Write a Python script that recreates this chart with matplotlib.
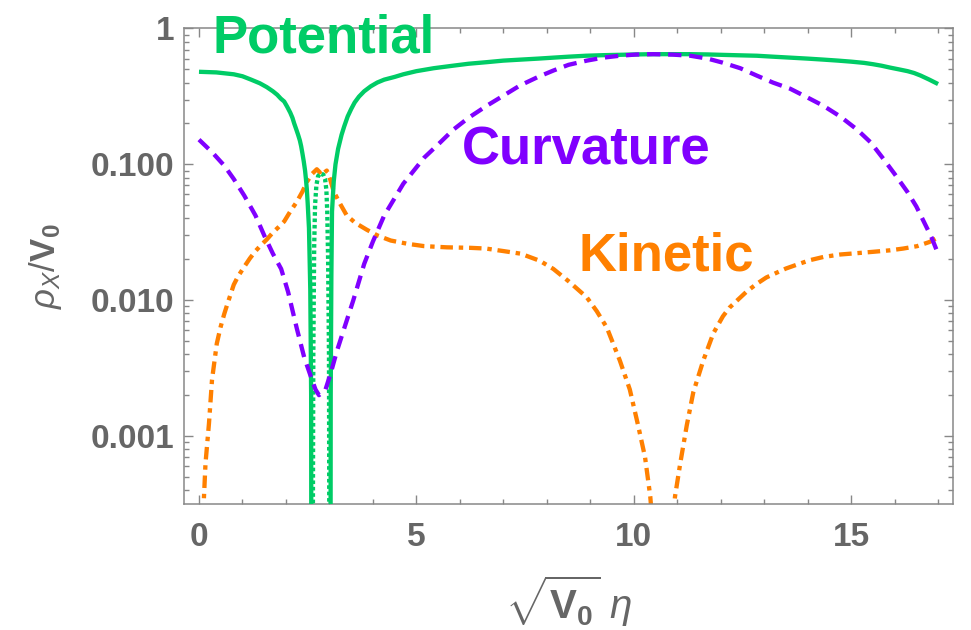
import numpy as np
import matplotlib
matplotlib.use("Agg")
import matplotlib.pyplot as plt
from matplotlib.ticker import LogLocator, FixedLocator, FixedFormatter, MultipleLocator, NullFormatter

plt.rcParams["font.family"] = ["Liberation Sans", "DejaVu Sans"]
plt.rcParams["mathtext.fontset"] = "custom"
plt.rcParams["mathtext.rm"] = "Liberation Sans"
plt.rcParams["mathtext.it"] = "Liberation Sans:italic"
plt.rcParams["mathtext.bf"] = "Liberation Sans:bold"
plt.rcParams["lines.scale_dashes"] = False

# ---- data: energy-density fractions vs. conformal time ----
eta_pot = [0, 0.4, 0.8, 1.0, 1.2, 1.4, 1.56, 1.7, 1.8, 1.88, 1.96, 2.03, 2.1, 2.15, 2.19,
           2.24, 2.28, 2.32, 2.35, 2.38, 2.41, 2.44, 2.46, 2.48, 2.50, 2.53, 2.56, 2.58,
           2.59, 3.02, 3.03, 3.045, 3.06, 3.1, 3.14, 3.2, 3.28, 3.34, 3.42, 3.5, 3.58,
           3.68, 3.8, 3.95, 4.1, 4.26, 4.5, 4.7, 5.0, 5.4, 5.8, 6.2, 6.62, 7.0, 7.4, 7.8,
           8.15, 8.5, 8.9, 9.3, 9.68, 10.05, 10.45, 10.9, 11.3, 11.7, 12.0, 12.4, 12.83,
           13.2, 13.6, 14.0, 14.36, 14.7, 15.0, 15.3, 15.5, 15.7, 15.9, 16.1, 16.3,
           16.45, 16.6, 16.8, 17.0]
rho_pot = [0.48, 0.475, 0.46, 0.445, 0.42, 0.395, 0.37, 0.345, 0.325, 0.305, 0.29,
           0.265, 0.24, 0.22, 0.20, 0.18, 0.165, 0.15, 0.136, 0.12, 0.105, 0.09, 0.078,
           0.066, 0.052, 0.034, 0.012, 0.002, 1e-6, 1e-6, 0.002, 0.015, 0.045, 0.075,
           0.10, 0.13, 0.165, 0.19, 0.225, 0.255, 0.285, 0.315, 0.345, 0.375, 0.40,
           0.42, 0.44, 0.46, 0.485, 0.51, 0.53, 0.55, 0.565, 0.58, 0.59, 0.60, 0.61,
           0.62, 0.63, 0.636, 0.64, 0.644, 0.647, 0.647, 0.647, 0.644, 0.64, 0.635,
           0.63, 0.62, 0.61, 0.60, 0.59, 0.58, 0.57, 0.558, 0.546, 0.532, 0.515, 0.5,
           0.485, 0.47, 0.45, 0.42, 0.39]

# |V| where the potential turns negative
eta_pot_neg = [2.60, 2.63, 2.65, 2.67, 2.70, 2.74, 2.80, 2.86, 2.90, 2.93, 2.95, 2.97,
               2.99, 3.01]
rho_pot_neg = [1e-6, 0.004, 0.025, 0.05, 0.07, 0.082, 0.086, 0.084, 0.078, 0.065,
               0.045, 0.02, 0.004, 1e-6]

eta_curv = [0, 0.3, 0.58, 0.8, 1.04, 1.3, 1.5, 1.7, 1.89, 2.05, 2.25, 2.42, 2.58, 2.68,
            2.76, 2.84, 2.91, 3.03, 3.17, 3.34, 3.55, 3.8, 4.0, 4.26, 4.7, 5.18, 5.5,
            5.85, 6.2, 6.62, 7.0, 7.38, 7.8, 8.15, 8.5, 8.92, 9.3, 9.68, 10.05, 10.45,
            10.9, 11.3, 11.7, 12.05, 12.45, 12.83, 13.2, 13.6, 14.0, 14.36, 14.75,
            15.14, 15.45, 15.74, 16.0, 16.29, 16.5, 16.67, 16.85, 17.0]
rho_curv = [0.152, 0.123, 0.098, 0.078, 0.059, 0.042, 0.030, 0.022, 0.017, 0.0115,
            0.0062, 0.0038, 0.0027, 0.0022, 0.0020, 0.0021, 0.0022, 0.0029, 0.0042,
            0.0062, 0.010, 0.0185, 0.027, 0.042, 0.072, 0.112, 0.14, 0.18, 0.22, 0.27,
            0.32, 0.38, 0.44, 0.49, 0.54, 0.58, 0.61, 0.63, 0.643, 0.647, 0.642, 0.63,
            0.60, 0.56, 0.51, 0.45, 0.40, 0.36, 0.31, 0.27, 0.225, 0.18, 0.145, 0.11,
            0.085, 0.063, 0.049, 0.038, 0.029, 0.022]

eta_kin = [0, 0.05, 0.10, 0.15, 0.23, 0.30, 0.41, 0.50, 0.58, 0.65, 0.8, 0.9, 1.04, 1.17,
           1.3, 1.43, 1.56, 1.7, 1.83, 1.96, 2.1, 2.25, 2.38, 2.48, 2.6, 2.71, 2.77,
           2.82, 2.88, 2.94, 3.02, 3.1, 3.25, 3.4, 3.6, 3.86, 4.1, 4.41, 4.8, 5.18, 5.7,
           6.23, 6.6, 7.0, 7.4, 7.84, 8.15, 8.5, 8.92, 9.15, 9.38, 9.68, 9.91, 10.1,
           10.26, 10.38, 10.5, 10.66, 10.8, 10.95, 11.07, 11.22, 11.37, 11.6, 11.83,
           12.05, 12.2, 12.37, 12.6, 12.83, 13.05, 13.3, 13.5, 13.76, 14.05, 14.36,
           14.75, 15.14, 15.5, 15.9, 16.2, 16.52, 16.8, 17.0]
rho_kin = [1e-7, 7e-5, 2.8e-4, 6.3e-4, 0.00124, 0.0026, 0.0048, 0.0064, 0.0079, 0.0093,
           0.013, 0.0150, 0.0176, 0.0203, 0.023, 0.0255, 0.028, 0.0315, 0.0345, 0.038,
           0.045, 0.053, 0.063, 0.074, 0.085, 0.092, 0.088, 0.083, 0.087, 0.09, 0.077,
           0.063, 0.051, 0.042, 0.037, 0.033, 0.030, 0.0275, 0.026, 0.025, 0.0245,
           0.0243, 0.024, 0.023, 0.022, 0.0195, 0.017, 0.0138, 0.0105, 0.0083, 0.0063,
           0.0036, 0.0022, 0.0012, 7e-4, 3.6e-4, 1.2e-4, 1e-7, 1.0e-4, 3.6e-4, 6.3e-4,
           0.0012, 0.0021, 0.0036, 0.0057, 0.0076, 0.0088, 0.0099, 0.0116, 0.0132,
           0.0147, 0.016, 0.0171, 0.0183, 0.0197, 0.0208, 0.0217, 0.0222, 0.0227,
           0.0233, 0.024, 0.025, 0.0268, 0.029]

ytick_vals = [1e-3, 1e-2, 1e-1, 1]
ytick_labels = ["0.001", "0.010", "0.100", "1"]
xtick_vals = [0, 5, 10, 15]

# ---- styling ----
GREEN = "#00CC66"
PURPLE = "#8000FF"
ORANGE = "#FF8000"
GRAY = "#666666"
FRAME = "#888888"

fig = plt.figure(figsize=(9.71, 6.3), dpi=100)
ax = fig.add_axes([0.1897, 0.2, 0.7916, 0.7548])

LW = 3.1
ax.plot(eta_pot, rho_pot, color=GREEN, lw=LW, solid_capstyle="butt", zorder=3)
ax.plot(eta_pot_neg, rho_pot_neg, color=GREEN, lw=LW, linestyle=(0, (2.6, 2.0)), zorder=3)
ax.plot(eta_curv, rho_curv, color=PURPLE, lw=LW, linestyle=(0, (9.6, 5.6)), zorder=4)
ax.plot(eta_kin, rho_kin, color=ORANGE, lw=LW, linestyle=(0, (9.0, 4.2, 3.2, 4.2)), zorder=2)

ax.set_yscale("log")
ax.set_xlim(-0.34, 17.34)
ax.set_ylim(10 ** -3.5, 1.0)

ax.yaxis.set_major_locator(FixedLocator(ytick_vals))
ax.yaxis.set_major_formatter(FixedFormatter(ytick_labels))
ax.yaxis.set_minor_locator(LogLocator(base=10, subs=np.arange(2, 10), numticks=20))
ax.yaxis.set_minor_formatter(NullFormatter())
ax.xaxis.set_major_locator(FixedLocator(xtick_vals))
ax.xaxis.set_minor_locator(MultipleLocator(1))

for s in ax.spines.values():
    s.set_color(FRAME)
    s.set_linewidth(1.1)

ax.tick_params(which="both", direction="in", top=True, right=True, color=FRAME, width=1.0)
ax.tick_params(which="major", length=6.5)
ax.tick_params(which="minor", length=3.8)
ax.tick_params(axis="x", which="major", pad=13, labelsize=24, labelcolor=GRAY)
ax.tick_params(axis="y", which="major", pad=7, labelsize=24, labelcolor=GRAY)
for lab in ax.get_xticklabels() + ax.get_yticklabels():
    lab.set_fontweight("bold")

ax.set_xlabel(r"$\sqrt{\mathbf{V_0}}\ \eta$", fontsize=29, color=GRAY)
ax.xaxis.label.set_va("center")
ax.xaxis.set_label_coords(0.5, -0.205)
ax.set_ylabel(r"$\rho_X/\mathbf{V_0}$", fontsize=25, color=GRAY)
ax.yaxis.label.set_va("center")
ax.yaxis.set_label_coords(-0.18, 0.5)

ax.text(0.32, 0.66, "Potential", color=GREEN, fontsize=38, fontweight="bold",
        va="baseline", ha="left", zorder=6, clip_on=False)
ax.text(6.05, 0.1, "Curvature", color=PURPLE, fontsize=38, fontweight="bold",
        va="baseline", ha="left", zorder=6)
ax.text(8.72, 0.0166, "Kinetic", color=ORANGE, fontsize=38, fontweight="bold",
        va="baseline", ha="left", zorder=6)

fig.savefig("out.png", dpi=100)
